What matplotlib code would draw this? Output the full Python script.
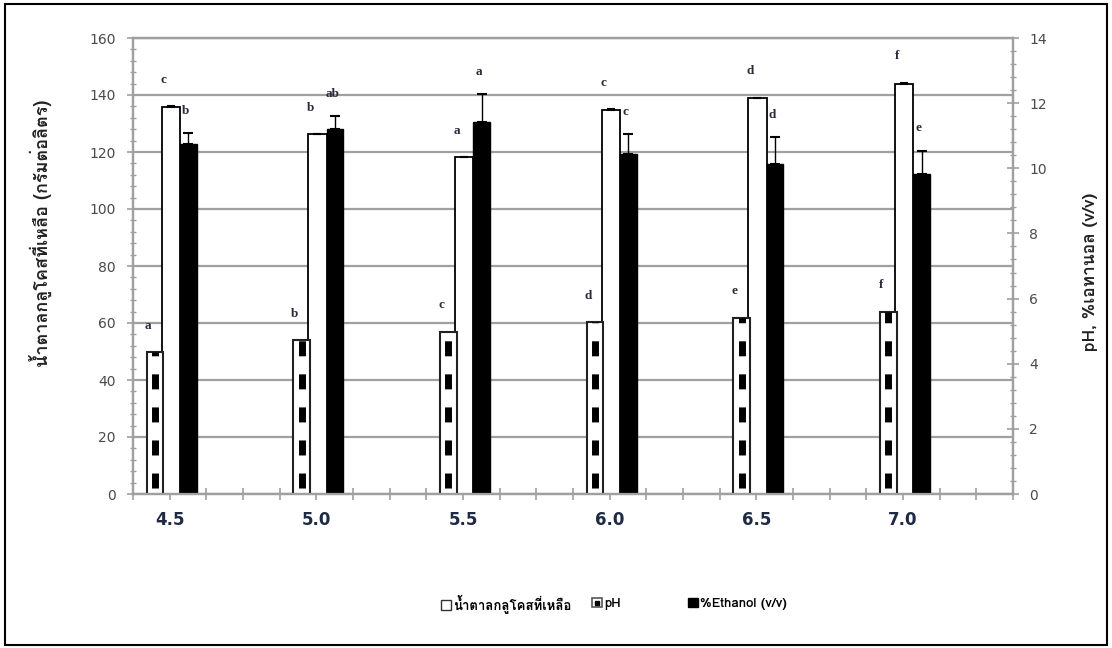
import numpy as np
import matplotlib
matplotlib.use('Agg')
import matplotlib.pyplot as plt
from matplotlib.patches import Patch, Rectangle
from matplotlib.lines import Line2D

plt.rcParams['lines.scale_dashes'] = False

# initial pH of the medium
ph_levels = ['4.5', '5.0', '5.5', '6.0', '6.5', '7.0']

# residual glucose (g/L), left axis
sugar = [135.7, 126.3, 118.1, 134.7, 139.0, 143.8]
sugar_err = [0.4, 0.0, 0.0, 0.4, 0.0, 0.5]
sugar_letters = ['c', 'b', 'a', 'c', 'd', 'f']

# final pH, right axis
ph = [4.35, 4.73, 4.98, 5.27, 5.41, 5.60]
ph_letters = ['a', 'b', 'c', 'd', 'e', 'f']

# ethanol %(v/v), right axis
ethanol = [10.75, 11.20, 11.43, 10.44, 10.13, 9.83]
ethanol_err = [0.32, 0.40, 0.85, 0.61, 0.82, 0.71]
ethanol_letters = ['b', 'ab', 'a', 'c', 'd', 'e']

legend_labels = ['น้ำตาลกลูโคสที่เหลือ', 'pH', '%Ethanol (v/v)']

THAI = ['Loma', 'Noto Sans Thai', 'DejaVu Sans']
GRID = '#a0a0a0'
LET_COLOR = '#2a2a3a'

fig = plt.figure(figsize=(11.12, 6.48), dpi=100)
ax = fig.add_axes([133 / 1112, 154 / 648, 880 / 1112, 456 / 648])
ax2 = ax.twinx()

base = np.arange(len(ph_levels)) * 4
x_ph = base + 0.60
x_sugar = base + 1.03
x_eth = base + 1.51

# left axis: glucose
ax.set_ylim(0, 160)
ax.set_xlim(0, 24)
ax.set_yticks(np.arange(0, 161, 20))
ax.set_yticks(np.arange(0, 161, 4), minor=True)
ax.yaxis.grid(True, color=GRID, lw=1.6)
ax.set_axisbelow(True)
ax.bar(x_sugar, sugar, width=0.5, color='white', edgecolor='black', lw=1.3, zorder=2)
ax.errorbar(x_sugar, sugar, yerr=[np.zeros(len(sugar)), sugar_err], fmt='none',
            ecolor='black', elinewidth=1, capsize=3, capthick=1.5, zorder=3)

# right axis: pH and ethanol
ax2.set_ylim(0, 14)
ax2.set_yticks(np.arange(0, 15, 2))
ax2.set_yticks(np.arange(0, 14.01, 0.4), minor=True)
ax2.bar(x_ph, ph, width=0.45, color='white', edgecolor='#222222', lw=1.5, zorder=2)
for xp, v in zip(x_ph, ph):
    ax2.plot([xp, xp], [0, v], color='black', lw=5, solid_capstyle='butt',
             dash_capstyle='butt', linestyle=(19.5, (10.8, 13.0)), zorder=3)
ax2.bar(x_eth, ethanol, width=0.46, color='black', edgecolor='black', lw=1, zorder=2)
ax2.errorbar(x_eth, ethanol, yerr=[np.zeros(len(ethanol)), ethanol_err], fmt='none',
             ecolor='black', elinewidth=1, capsize=3.5, capthick=1.5, zorder=3)

# significance letters
let_kw = dict(textcoords='offset points', ha='center', va='center', fontsize=9.5,
              fontweight='bold', family='Liberation Serif', color=LET_COLOR)
for xs, v, e, t in zip(x_sugar, sugar, sugar_err, sugar_letters):
    ax.annotate(t, (xs, v + e), xytext=(-5, 19), **let_kw)
for xp, v, t in zip(x_ph, ph, ph_letters):
    ax2.annotate(t, (xp, v), xytext=(-5, 19), **let_kw)
for xe, v, e, t in zip(x_eth, ethanol, ethanol_err, ethanol_letters):
    ax2.annotate(t, (xe, v + e), xytext=(-2, 16), **let_kw)

# x axis: one tick per slot, labels at the group centres
ax.set_xticks(base + 1)
ax.set_xticks(np.arange(0, 25, 1), minor=True)
ax.set_xticklabels(ph_levels, fontsize=12, fontweight='bold', color='#1f2a44')

for a in (ax, ax2):
    for s in a.spines.values():
        s.set_color(GRID)
        s.set_linewidth(1.6)
ax.tick_params(axis='x', which='both', direction='inout', length=8, color=GRID, width=1.2, pad=8)
ax.tick_params(axis='y', which='major', direction='inout', length=9, color=GRID, width=1.2,
               labelsize=10, labelcolor='#4a4a4a', pad=8)
ax.tick_params(axis='y', which='minor', direction='inout', length=5, color=GRID, width=1)
ax2.tick_params(axis='y', which='major', direction='inout', length=9, color=GRID, width=1.2,
                labelsize=10, labelcolor='#4a4a4a', pad=7)
ax2.tick_params(axis='y', which='minor', direction='inout', length=5, color=GRID, width=1)

fig.text(40 / 1112, 1 - 233 / 648, 'น้ำตาลกลูโคสที่เหลือ (กรัมต่อลิตร)', rotation=90,
         ha='center', va='center', fontsize=13, fontweight='bold', family=THAI, color='#222222')
fig.text(1090 / 1112, 1 - 272 / 648, 'pH, %เอทานอล (v/v)', rotation=90,
         ha='center', va='center', fontsize=12.5, fontweight='bold', family=THAI, color='#222222')

# legend entries placed one by one along the bottom
handles = [Patch(facecolor='white', edgecolor='#333333', lw=1),
           (Patch(facecolor='white', edgecolor='#555555', lw=1.2),
            Line2D([], [], marker='s', ms=3.5, color='black', ls='')),
           Patch(facecolor='black', edgecolor='black')]
for h, lab, x0 in zip(handles, legend_labels, [441, 592, 688]):
    fig.legend([h], [lab], loc='center left', bbox_to_anchor=(x0 / 1112, 1 - 604 / 648),
               frameon=False, borderpad=0, borderaxespad=0, handlelength=0.75,
               handleheight=0.75, handletextpad=0.15,
               prop={'family': THAI, 'weight': 'bold', 'size': 9.5})

fig.patches.append(Rectangle((5 / 1112, 3 / 648), 1102 / 1112, 641 / 648, transform=fig.transFigure,
                             fill=False, edgecolor='black', lw=1.5))

fig.savefig('out.png', dpi=100)
